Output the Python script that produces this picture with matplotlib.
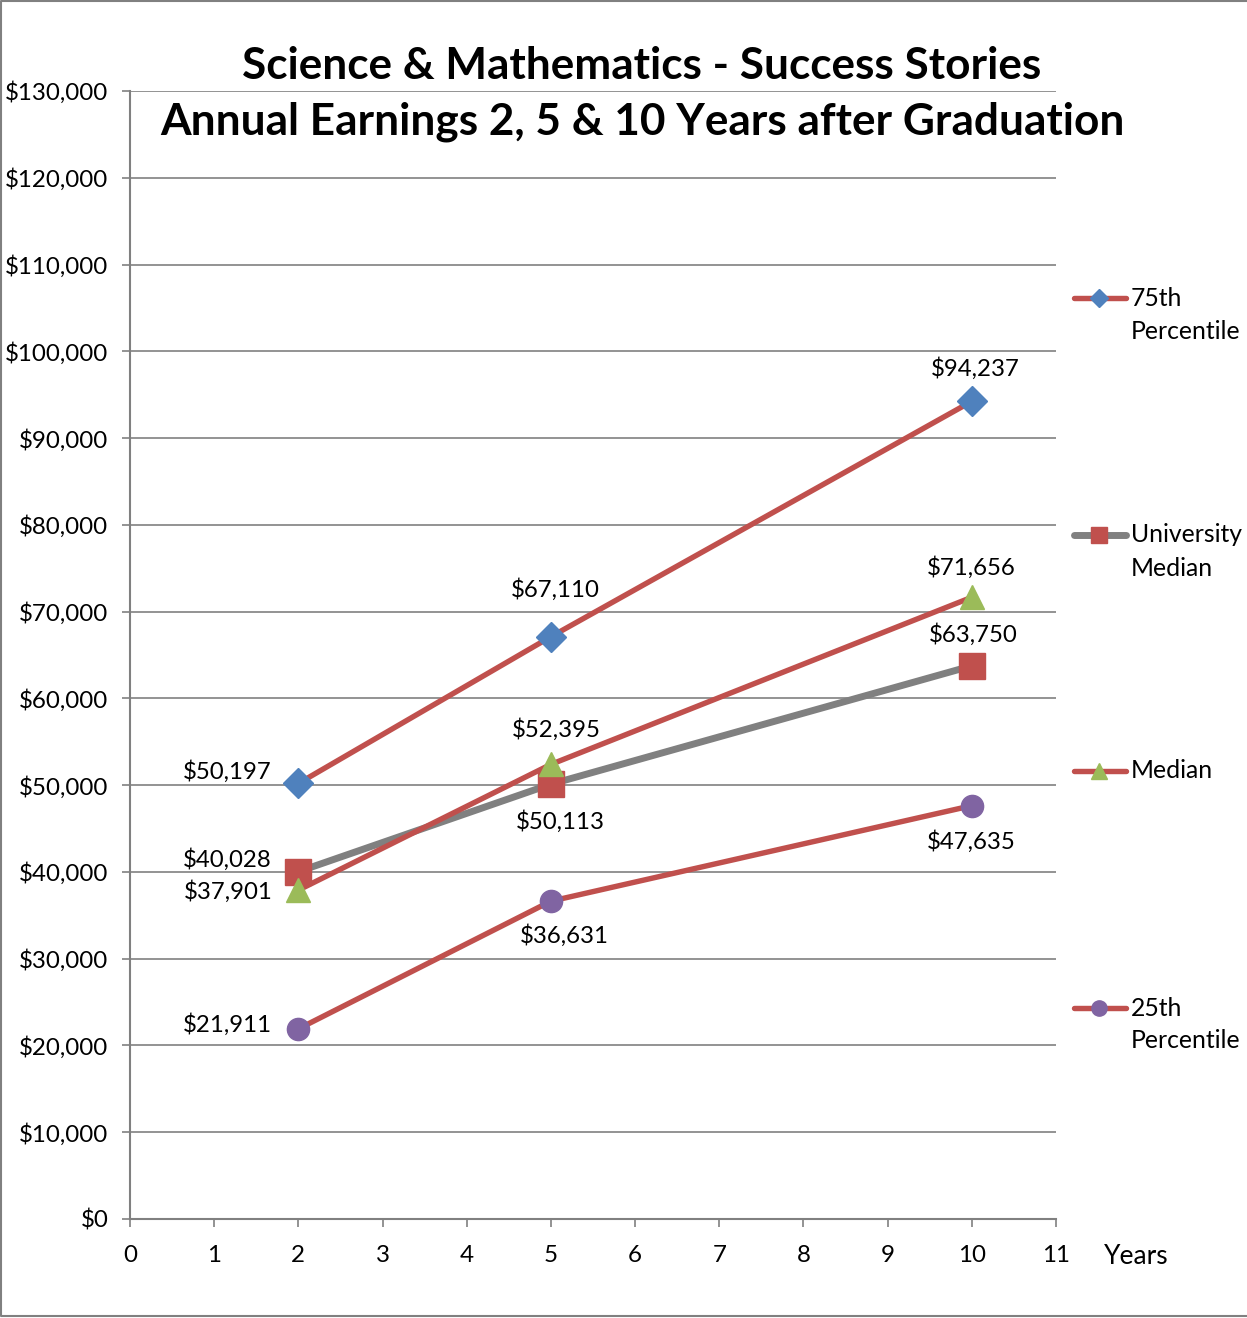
import matplotlib
matplotlib.use("Agg")
import matplotlib.pyplot as plt
from matplotlib.lines import Line2D

plt.rcParams['font.family'] = ['Lato', 'DejaVu Sans']

years = [2, 5, 10]
p75 = [50197, 67110, 94237]
uni_median = [40028, 50113, 63750]
median = [37901, 52395, 71656]
p25 = [21911, 36631, 47635]

series_labels = ["75th\nPercentile", "University\nMedian", "Median", "25th\nPercentile"]
title_lines = ["Science & Mathematics - Success Stories",
               "Annual Earnings 2, 5 & 10 Years after Graduation"]

RED = "#C0504D"
BLUE = "#4F81BD"
GRAY = "#808080"
GREEN = "#9BBB59"
PURPLE = "#8064A2"

W, H = 1247, 1318
fig = plt.figure(figsize=(W / 100, H / 100), dpi=100)
ax = fig.add_axes([130 / W, (H - 1219) / H, (1056 - 130) / W, (1219 - 91) / H])

ax.plot(years, uni_median, color=GRAY, lw=5, marker='s', ms=19, mfc=RED, mec=RED, zorder=3)
ax.plot(years, p75, color=RED, lw=3.9, marker='D', ms=15, mfc=BLUE, mec=BLUE, zorder=4)
ax.plot(years, median, color=RED, lw=3.9, marker='^', ms=17, mfc=GREEN, mec=GREEN, zorder=4)
ax.plot(years, p25, color=RED, lw=3.9, marker='o', ms=16, mfc=PURPLE, mec=PURPLE, zorder=4)

def fmt(v):
    return "${:,.0f}".format(v)

fs_lab = 17.3
# label layout: (ha, dx px, dy px) relative to the point; dy positive = downwards
layouts = [
    (p75, [('right', -27, -12), ('center', 4, -47), ('center', 3, -33)]),
    (uni_median, [('right', -27, -12), ('center', 9, 37), ('center', 1, -31)]),
    (median, [('right', -26, 1), ('center', 5, -35), ('center', -1, -30)]),
    (p25, [('right', -26, -4), ('center', 13, 34), ('center', -1, 36)]),
]
for vals, lays in layouts:
    for x, v, (ha, dx, dy) in zip(years, vals, lays):
        ax.annotate(fmt(v), (x, v), xytext=(dx * 0.72, -dy * 0.72), textcoords='offset points',
                    ha=ha, va='center', fontsize=fs_lab)

ax.set_xlim(0, 11)
ax.set_ylim(0, 130000)
ax.set_xticks(range(0, 12))
ax.set_yticks(range(0, 130001, 10000))
ax.set_yticklabels([fmt(v) for v in range(0, 130001, 10000)])
ax.tick_params(axis='both', labelsize=17.4, direction='out', length=5.5, width=1.2, color=GRAY)
ax.tick_params(axis='x', pad=13)
ax.tick_params(axis='y', pad=10)
ax.grid(axis='y', color=GRAY, lw=1.2)
ax.set_axisbelow(True)
for s in ['top', 'right']:
    ax.spines[s].set_visible(False)
for s in ['left', 'bottom']:
    ax.spines[s].set_color(GRAY)
    ax.spines[s].set_linewidth(1.5)

fig.text(1104 / W, 1 - 1256 / H, "Years", fontsize=19, ha='left', va='center')

for i, line in enumerate(title_lines):
    fig.text(642 / W, 1 - (66 + 56 * i) / H, line, fontsize=31.8, fontweight='bold',
             ha='center', va='center')

# legend
leg_y = [298, 535, 771, 1008]
leg_specs = [
    (RED, 3.9, 'D', 9, BLUE),
    (GRAY, 5, 's', 11, RED),
    (RED, 3.9, '^', 11, GREEN),
    (RED, 3.9, 'o', 11, PURPLE),
]
for y, lab, (lc, lw, m, ms, mc) in zip(leg_y, series_labels, leg_specs):
    yf = 1 - y / H
    fig.add_artist(Line2D([1074 / W, 1126 / W], [yf, yf], color=lc, lw=lw, solid_capstyle='round',
                          transform=fig.transFigure))
    fig.add_artist(Line2D([1099 / W], [yf], marker=m, ms=ms, mfc=mc, mec=mc, ls='none',
                          transform=fig.transFigure))
    for j, part in enumerate(lab.split("\n")):
        fig.text(1131 / W, 1 - (y + 33 * j) / H, part, fontsize=17.8, ha='left', va='center')

# outer frame: top, left, bottom (right edge is cut off in the reference)
fx = [1.0, 0.0008, 0.0008, 1.0]
fy = [0.9992, 0.9992, 0.0012, 0.0012]
fig.add_artist(Line2D(fx, fy, color=GRAY, lw=1.5, transform=fig.transFigure))

fig.savefig("out.png", dpi=100)
